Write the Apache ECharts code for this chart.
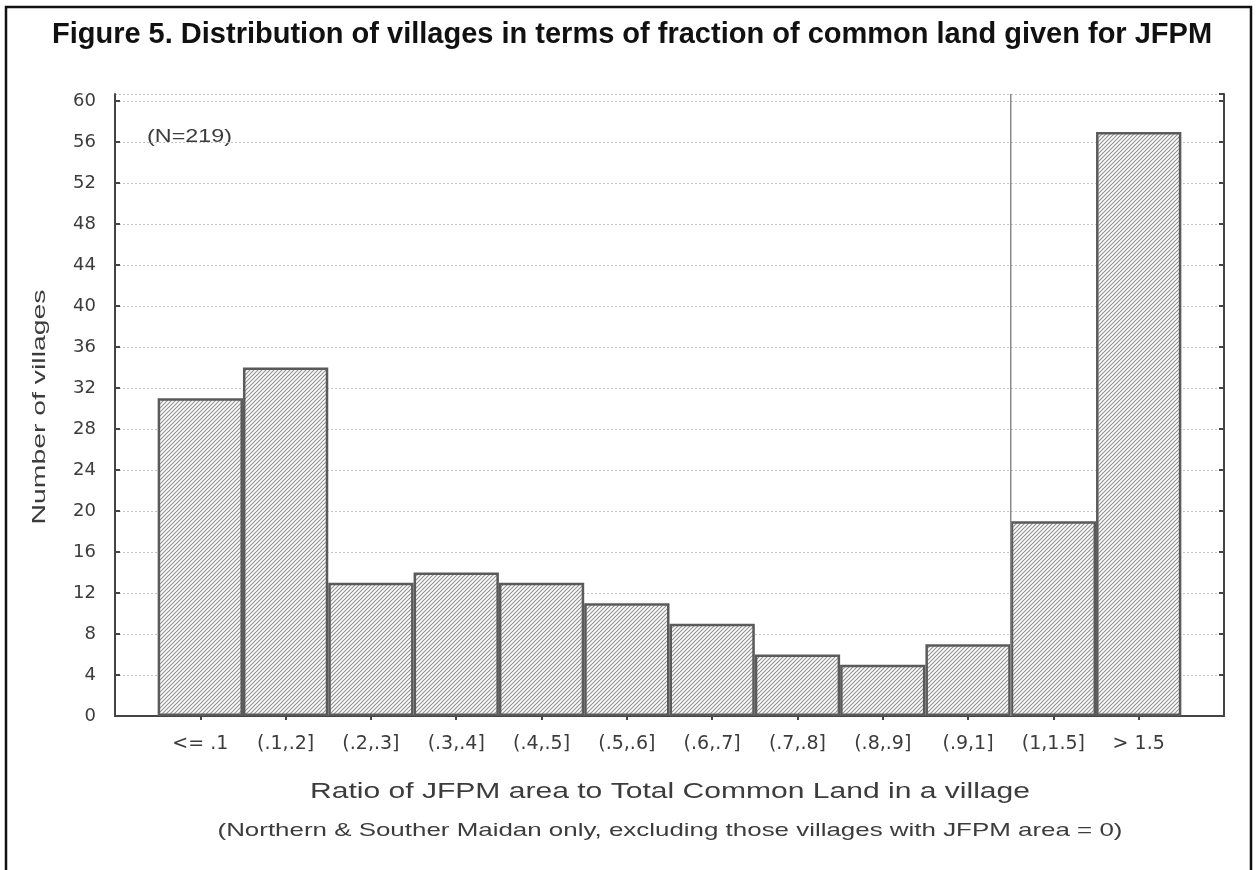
<!DOCTYPE html>
<html>
<head>
<meta charset="utf-8">
<script src="https://cdn.jsdelivr.net/npm/echarts@6/dist/echarts.min.js"></script>
<style>
html,body{margin:0;padding:0;background:#fff;}
#chart{width:1257px;height:870px;}
</style>
</head>
<body>
<div id="chart"></div>
<script>
// ---- data ----
const titleText = 'Figure 5. Distribution of villages in terms of fraction of common land given for JFPM';
const categories = ['<= .1', '(.1,.2]', '(.2,.3]', '(.3,.4]', '(.4,.5]', '(.5,.6]', '(.6,.7]', '(.7,.8]', '(.8,.9]', '(.9,1]', '(1,1.5]', '> 1.5'];
const villages = [31, 34, 13, 14, 13, 11, 9, 6, 5, 7, 19, 57];
const yTicks = [0, 4, 8, 12, 16, 20, 24, 28, 32, 36, 40, 44, 48, 52, 56, 60];
const dividerBefore = '(1,1.5]';
const yName = 'Number of villages';
const xName = 'Ratio of JFPM area to Total Common Land in a village';
const xSubName = '(Northern & Souther Maidan only, excluding those villages with JFPM area = 0)';
const noteText = '(N=219)';

// padded categories (empty slot on each side of the histogram)
const padded = [''].concat(categories, ['']);
const paddedValues = ['-'].concat(villages, ['-']);
const dividerX = padded.indexOf(dividerBefore) - 0.5;
const yMax = 60.7;

// hatch pattern
const tile = document.createElement('canvas');
tile.width = 4; tile.height = 4;
const tc = tile.getContext('2d');
tc.fillStyle = '#ffffff'; tc.fillRect(0, 0, 4, 4);
tc.strokeStyle = '#939393'; tc.lineWidth = 1.2;
tc.beginPath();
tc.moveTo(-1, 5); tc.lineTo(5, -1);
tc.moveTo(-1, 1); tc.lineTo(1, -1);
tc.moveTo(3, 5); tc.lineTo(5, 3);
tc.stroke();

const FONT = '"DejaVu Sans", "Liberation Sans", sans-serif';
const AFONT = '"Liberation Sans", Arial, sans-serif';
const mctx = document.createElement('canvas').getContext('2d');
function fitScale(text, font, target) {
  mctx.font = font;
  return target / mctx.measureText(text).width;
}

const chart = echarts.init(document.getElementById('chart'), null, {renderer: 'canvas'});
const grid = {left: 115, right: 33, top: 94, bottom: 154};
const txtColor = '#3c3c3c';

const fXName = '22px ' + AFONT;
const fSub = '19px ' + AFONT;
const fY = '19px ' + AFONT;
const fN = '19px ' + AFONT;

chart.setOption({
  animation: false,
  backgroundColor: '#fff',
  grid: grid,
  xAxis: [
    {
      type: 'category', data: padded, boundaryGap: false, position: 'bottom',
      axisLine: {show: true, lineStyle: {color: '#444', width: 2}},
      axisTick: {show: true, inside: true, length: 4, interval: (i) => i > 0 && i < padded.length - 1, lineStyle: {color: '#444', width: 2}},
      axisLabel: {color: txtColor, fontSize: 19, fontFamily: FONT, margin: 19, interval: 0},
      splitLine: {show: false}
    },
    {
      type: 'category', data: padded, boundaryGap: false, position: 'top',
      axisLine: {show: true, lineStyle: {color: '#444', width: 2}},
      axisTick: {show: true, inside: true, length: 4, interval: (i) => i > 0 && i < padded.length - 1, lineStyle: {color: '#444', width: 2}},
      axisLabel: {show: false},
      splitLine: {show: false}
    },
    {
      type: 'value', min: 0, max: padded.length - 1, show: false
    }
  ],
  yAxis: [
    {
      type: 'value', min: 0, max: yMax, interval: yTicks[1] - yTicks[0], position: 'left',
      axisLine: {show: true, lineStyle: {color: '#444', width: 2}},
      axisTick: {show: true, inside: true, length: 5, lineStyle: {color: '#444', width: 2}},
      axisLabel: {color: txtColor, fontSize: 18, fontFamily: FONT, margin: 19, showMaxLabel: false,
        formatter: (v) => yTicks.indexOf(v) >= 0 ? String(v) : ''},
      splitLine: {show: true, lineStyle: {color: '#c4c4c4', width: 1, type: [2, 2]}}
    },
    {
      type: 'value', min: 0, max: yMax, interval: yTicks[1] - yTicks[0], position: 'right',
      axisLine: {show: true, lineStyle: {color: '#444', width: 2}},
      axisTick: {show: true, inside: true, length: 5, lineStyle: {color: '#444', width: 2}},
      axisLabel: {show: false},
      splitLine: {show: false}
    }
  ],
  series: [
    {
      type: 'bar', xAxisIndex: 0, yAxisIndex: 0,
      data: paddedValues, barWidth: '100%',
      itemStyle: {color: {image: tile, repeat: 'repeat'}, borderColor: '#5a5a5a', borderWidth: 2.5},
      z: 3
    },
    {
      type: 'line', xAxisIndex: 2, yAxisIndex: 0,
      data: [[dividerX, 0], [dividerX, yMax]],
      symbol: 'none', lineStyle: {color: '#8a8a8a', width: 1.5}, z: 4, silent: true
    }
  ],
  graphic: [
    {type: 'rect', shape: {x: 6, y: 7, width: 1245, height: 900}, style: {fill: 'none', stroke: '#111', lineWidth: 2.5}, silent: true},
    {type: 'text', x: 632, y: 35, style: {text: titleText, font: 'bold 29px ' + AFONT, fill: '#111', align: 'center', verticalAlign: 'middle'}},
    {type: 'text', x: 147, y: 137, scaleX: fitScale(noteText, fN, 85), style: {text: noteText, font: fN, fill: txtColor, align: 'left', verticalAlign: 'middle'}},
    {type: 'text', x: 40, y: 407, rotation: Math.PI / 2, scaleX: fitScale(yName, fY, 235), style: {text: yName, font: fY, fill: txtColor, align: 'center', verticalAlign: 'middle'}},
    {type: 'text', x: 670, y: 792, scaleX: fitScale(xName, fXName, 720), style: {text: xName, font: fXName, fill: txtColor, align: 'center', verticalAlign: 'middle'}},
    {type: 'text', x: 670, y: 831, scaleX: fitScale(xSubName, fSub, 905), style: {text: xSubName, font: fSub, fill: txtColor, align: 'center', verticalAlign: 'middle'}}
  ]
});
</script>
</body>
</html>
